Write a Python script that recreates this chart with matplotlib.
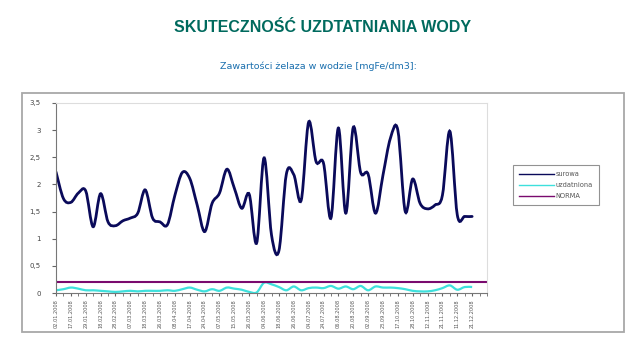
import numpy as np
import matplotlib
matplotlib.use('Agg')
import matplotlib.pyplot as plt
from matplotlib.path import Path
import matplotlib.patches as patches

# values (mgFe/dm3)
surowa = [2.23, 1.74, 1.67, 1.84, 1.88, 1.22, 1.83, 1.31, 1.24, 1.33,
          1.38, 1.47, 1.90, 1.38, 1.31, 1.26, 1.80, 2.22, 2.11, 1.62,
          1.13, 1.65, 1.84, 2.28, 1.93, 1.56, 1.82, 0.92, 2.49, 1.07,
          0.78, 2.19, 2.18, 1.71, 3.15, 2.42, 2.39, 1.38, 3.04, 1.47,
          3.05, 2.22, 2.19, 1.47, 2.17, 2.85, 3.00, 1.50, 2.10, 1.65,
          1.55, 1.62, 1.80, 2.98, 1.44, 1.41, 1.41]
uzdatniona = [0.05, 0.07, 0.10, 0.08, 0.05, 0.05, 0.04, 0.03, 0.02, 0.03,
              0.04, 0.03, 0.04, 0.04, 0.04, 0.05, 0.04, 0.07, 0.10, 0.06,
              0.03, 0.07, 0.04, 0.10, 0.08, 0.06, 0.02, 0.01, 0.19, 0.16,
              0.11, 0.05, 0.12, 0.05, 0.09, 0.10, 0.09, 0.13, 0.08, 0.12,
              0.07, 0.13, 0.05, 0.12, 0.10, 0.10, 0.09, 0.07, 0.04, 0.03,
              0.03, 0.05, 0.09, 0.14, 0.06, 0.11, 0.11]
norma = [0.2] * 59
dates = ['02.01.2008', '17.01.2008', '29.01.2008', '18.02.2008', '28.02.2008',
         '07.03.2008', '18.03.2008', '26.03.2008', '08.04.2008', '17.04.2008',
         '24.04.2008', '07.05.2008', '15.05.2008', '26.05.2008', '04.06.2008',
         '18.06.2008', '26.06.2008', '04.07.2008', '24.07.2008', '06.08.2008',
         '20.08.2008', '02.09.2008', '23.09.2008', '17.10.2008', '28.10.2008',
         '12.11.2008', '21.11.2008', '11.12.2008', '21.12.2008']
yticks = [0, 0.5, 1, 1.5, 2, 2.5, 3, 3.5]


def smooth_path(x, y):
    # Excel-like smoothed line: cubic bezier through the points (catmull-rom)
    x = np.asarray(x, float)
    y = np.asarray(y, float)
    verts = [(x[0], y[0])]
    codes = [Path.MOVETO]
    n = len(x)
    for i in range(n - 1):
        x0, y0 = (x[i - 1], y[i - 1]) if i > 0 else (x[i], y[i])
        x3, y3 = (x[i + 2], y[i + 2]) if i + 2 < n else (x[i + 1], y[i + 1])
        c1 = (x[i] + (x[i + 1] - x0) / 6, y[i] + (y[i + 1] - y0) / 6)
        c2 = (x[i + 1] - (x3 - x[i]) / 6, y[i + 1] - (y3 - y[i]) / 6)
        verts += [c1, c2, (x[i + 1], y[i + 1])]
        codes += [Path.CURVE4] * 3
    return Path(verts, codes)


fig = plt.figure(figsize=(6.36, 3.56), dpi=100)
fig.patch.set_facecolor('white')

# outer chart frame
frame = patches.Rectangle((22 / 636, 1 - 332 / 356), 602 / 636, 239 / 356,
                          transform=fig.transFigure, fill=False,
                          edgecolor='#a8a8a8', lw=1.3)
fig.patches.append(frame)

fig.text(323 / 636, 1 - 28 / 356, 'SKUTECZNOŚĆ UZDTATNIANIA WODY', ha='center', va='center',
         fontsize=11.5, fontweight='bold', color='#006a5e', family='Liberation Sans')
fig.text(0.5, 1 - 66 / 356, 'Zawartości żelaza w wodzie [mgFe/dm3]:', ha='center', va='center',
         fontsize=6.8, color='#1a6fae', family='DejaVu Sans')

ax = fig.add_axes([56 / 636, 1 - 293 / 356, 431 / 636, 190 / 356])
x = np.arange(len(surowa))

ax.add_patch(patches.PathPatch(smooth_path(x, surowa), fill=False,
                               edgecolor='#0a0a5a', lw=2.0, capstyle='round'))
ax.add_patch(patches.PathPatch(smooth_path(x, uzdatniona), fill=False,
                               edgecolor='#3ee0dc', lw=1.6))
ax.plot(np.arange(len(norma)), norma, color='#7a0a6e', lw=1.5)

ax.set_xlim(0, 58)
ax.set_ylim(0, 3.5)
ax.set_yticks(yticks)
ax.set_yticklabels([('%g' % v).replace('.', ',') for v in yticks],
                   fontsize=5, color='#444444')
ax.set_xticks(np.arange(0, 57, 2))
ax.set_xticklabels(dates, rotation=90, fontsize=3.6, color='#555555')
ax.set_xticks(np.arange(0, 59, 1), minor=True)
ax.tick_params(axis='x', which='both', length=2, color='#666666', pad=2.5)
ax.tick_params(axis='y', length=3, color='#666666', pad=8)

for side in ['top', 'right']:
    ax.spines[side].set_color('#dddddd')
    ax.spines[side].set_linewidth(0.8)
ax.spines['left'].set_color('#777777')
ax.spines['bottom'].set_color('#777777')

h1, = ax.plot([], [], color='#0a0a5a', lw=1)
h2, = ax.plot([], [], color='#3ee0dc', lw=1)
h3, = ax.plot([], [], color='#7a0a6e', lw=1)
leg = fig.legend([h1, h2, h3], ['surowa', 'uzdatniona', 'NORMA'],
                 loc='upper left', bbox_to_anchor=(513 / 636, 1 - 165 / 356),
                 fontsize=4.8, frameon=True, fancybox=False, handlelength=5.2,
                 borderpad=0.9, labelspacing=0.75, handletextpad=0.3,
                 borderaxespad=0)
leg.get_frame().set_edgecolor('#777777')
leg.get_frame().set_linewidth(0.8)
for t in leg.get_texts():
    t.set_color('#555555')

fig.savefig('out.png', dpi=100)
